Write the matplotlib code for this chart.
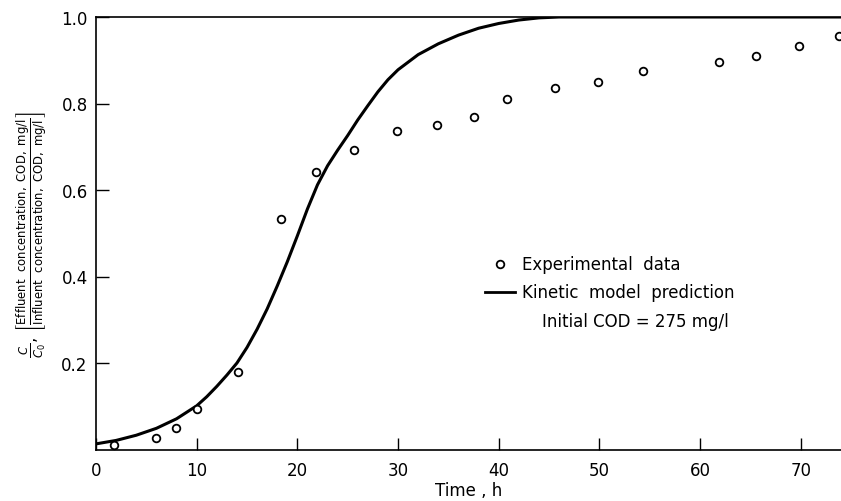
import numpy as np
import matplotlib.pyplot as plt

# experimental points: time (h) vs C/C0
exp_time = [1.8, 6.0, 7.9, 10.0, 14.1, 18.4, 21.9, 25.6, 29.9, 33.9,
            37.5, 40.8, 45.6, 49.9, 54.3, 61.9, 65.6, 69.8, 73.8]
exp_ratio = [0.010, 0.026, 0.050, 0.094, 0.180, 0.532, 0.642, 0.692, 0.737, 0.750,
             0.768, 0.810, 0.836, 0.850, 0.875, 0.895, 0.910, 0.934, 0.955]

# kinetic model curve
model_time = [0, 2, 4, 6, 8, 10, 11, 12, 13, 14, 15, 16, 17, 18, 19, 20, 21, 22,
              23, 24, 25, 26, 27, 28, 29, 30, 32, 34, 36, 38, 40, 42, 44, 46, 74]
model_ratio = [0.013, 0.021, 0.033, 0.049, 0.071, 0.101, 0.122, 0.146, 0.172, 0.200,
               0.236, 0.278, 0.325, 0.378, 0.434, 0.494, 0.556, 0.612, 0.656, 0.692,
               0.726, 0.762, 0.795, 0.827, 0.855, 0.878, 0.913, 0.938, 0.958, 0.974,
               0.985, 0.993, 0.998, 1.0, 1.0]

x_ticks = [0, 10, 20, 30, 40, 50, 60, 70]
y_ticks = [0.2, 0.4, 0.6, 0.8, 1.0]

plt.rcParams['font.family'] = 'DejaVu Sans'
plt.rcParams['mathtext.fontset'] = 'dejavusans'

fig = plt.figure(figsize=(8.41, 5.02), dpi=100)
ax = fig.add_axes([96 / 841, 51.5 / 502, 1 - 96 / 841, 432.5 / 502])

ax.plot(model_time, model_ratio, color='black', lw=2.2, solid_capstyle='round',
        solid_joinstyle='round')
ax.plot(exp_time, exp_ratio, 'o', ms=5.5, mfc='white', mec='black', mew=1.3)

ax.set_xlim(0, 74.0)
ax.set_ylim(0, 1.0)
ax.set_xticks(x_ticks)
ax.set_yticks(y_ticks)
ax.set_yticklabels(['0.2', '0.4', '0.6', '0.8', '1.0'])
ax.tick_params(direction='in', length=9, width=1.0, labelsize=12, pad=6)
ax.tick_params(axis='x', pad=8)

ax.spines['right'].set_visible(False)
for s in ['left', 'bottom', 'top']:
    ax.spines[s].set_linewidth(1.2)

ax.set_xlabel('Time , h', fontsize=12, labelpad=2)
ax.set_ylabel(r'$\frac{C}{C_0}$, $\left[\frac{\mathrm{Effluent\ \ concentration,\ COD,\ mg/l}}'
              r'{\mathrm{Influent\ \ concentration,\ COD,\ mg/l}}\right]$',
              fontsize=12, labelpad=8)

# legend drawn by hand
ax.plot([40.1], [0.430], 'o', ms=5.5, mfc='white', mec='black', mew=1.3, clip_on=False)
ax.text(42.3, 0.430, 'Experimental  data', fontsize=12, va='center')
ax.plot([38.6, 41.6], [0.365, 0.365], color='black', lw=2.0)
ax.text(42.3, 0.365, 'Kinetic  model  prediction', fontsize=12, va='center')
ax.text(44.3, 0.298, 'Initial COD = 275 mg/l', fontsize=12, va='center')

fig.savefig('out.png', dpi=100)
